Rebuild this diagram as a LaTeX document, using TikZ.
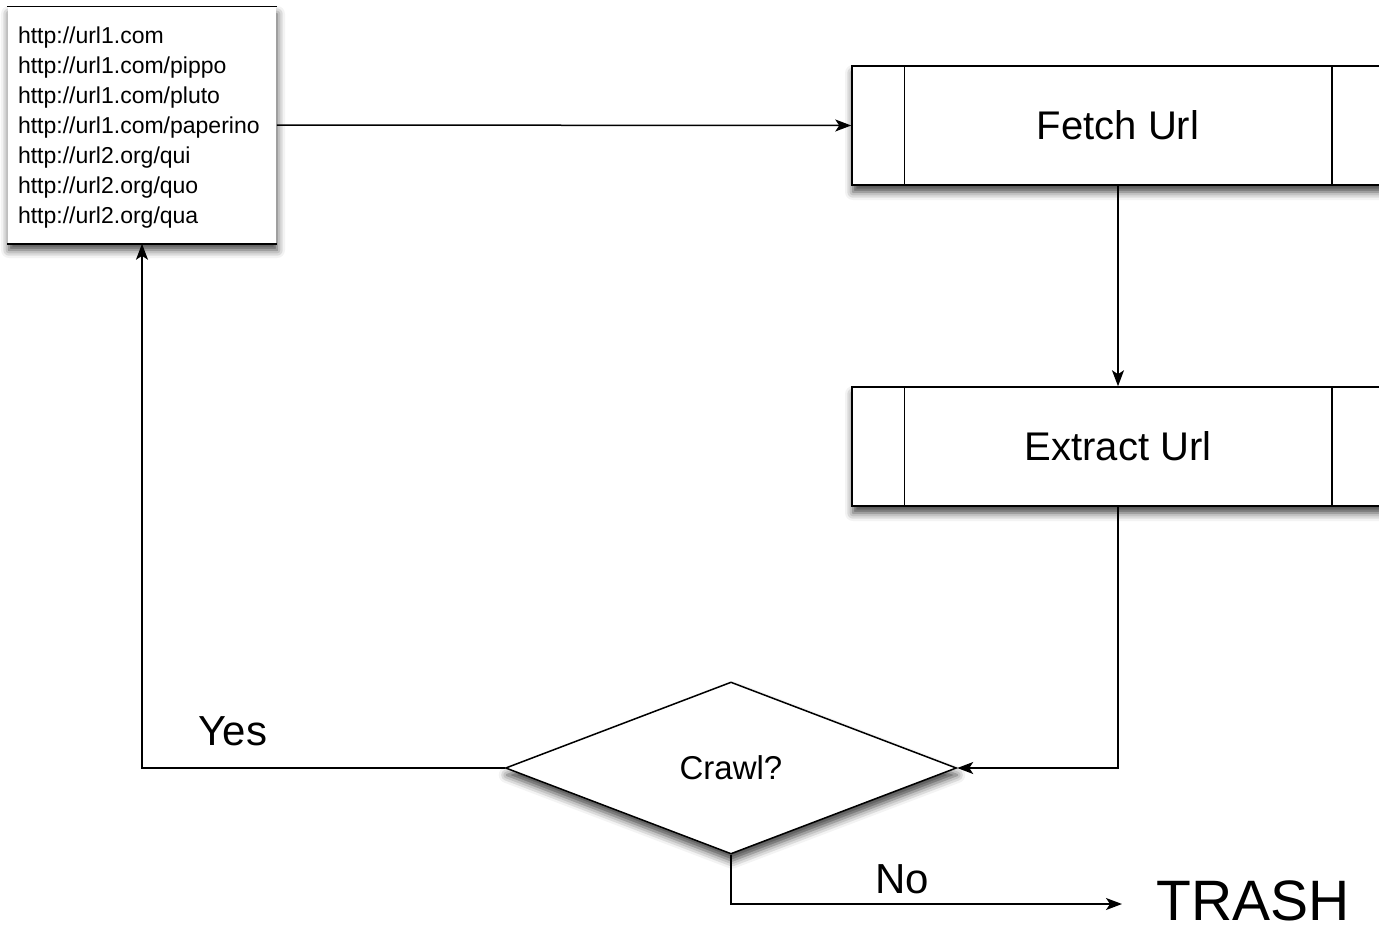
\documentclass[tikz,border=0pt]{standalone}
\usepackage{fontspec}
\setmainfont{Liberation Sans}
\usetikzlibrary{shapes.geometric,arrows.meta,shadows.blur}
\begin{document}
\begin{tikzpicture}[x=1pt,y=-1pt,
  line width=1.5pt,
  shad/.style={blur shadow={shadow xshift=1pt, shadow yshift=-7pt, shadow blur radius=8pt, shadow opacity=75}},
  procbox/.style={draw, fill=white, shad, minimum width=532pt, minimum height=119pt, inner sep=0pt, font=\fontsize{40}{48}\selectfont},
  decbox/.style={draw, fill=white, shad, diamond, aspect=2.62, minimum width=451pt, minimum height=172pt, inner sep=0pt, font=\fontsize{33}{38}\selectfont},
  urlbox/.style={fill=white, shad, minimum width=268pt, minimum height=236pt, inner sep=0pt},
  urltext/.style={inner sep=0pt, text width=248pt, align=left, font=\fontsize{23}{30}\selectfont},
  lbl/.style={inner sep=0pt, font=\fontsize{42}{48}\selectfont},
  arr/.style={-{Stealth[length=16pt,width=12pt,inset=4pt]}}
]
\useasboundingbox (0,0) rectangle (1379,929);
\clip (0,0) rectangle (1379,929);
% URL list
\node[urlbox] (urls) at (142,125) {};
\node[urltext] (urllist) at (142,128) {http://url1.com\\http://url1.com/pippo\\http://url1.com/pluto\\http://url1.com/paperino\\http://url2.org/qui\\http://url2.org/quo\\http://url2.org/qua};
\draw (urls.north west) -- (urls.north east);
\draw[line width=2.2pt] (urls.south west) -- (urls.south east);
% processes
\node[procbox] (fetch) at (1118,125.5) {Fetch Url};
\draw ([xshift=53pt]fetch.north west) -- ([xshift=53pt]fetch.south west);
\draw ([xshift=-53pt]fetch.north east) -- ([xshift=-53pt]fetch.south east);
\node[procbox] (extract) at (1118,446.5) {Extract Url};
\draw ([xshift=53pt]extract.north west) -- ([xshift=53pt]extract.south west);
\draw ([xshift=-53pt]extract.north east) -- ([xshift=-53pt]extract.south east);
% decision
\node[decbox] (dec) at (731,768) {Crawl?};
% trash
\node[inner sep=0pt, text depth=0pt, anchor=base, font=\fontsize{57}{62}\selectfont] (trash) at (1253,920) {TRASH};
\coordinate (noend) at (1122,904);
% connectors
\draw[arr] (urls.east) -- (fetch.west);
\draw[arr] (fetch.south) -- (extract.north);
\draw[arr] (extract.south) |- (dec.east);
\draw[arr] (dec.west) -| (urls.south);
\draw[arr] (dec.south) |- (noend);
% labels
\node[lbl] (yes) at (233,731) {Yes};
\node[lbl] (no) at (902,879) {No};
\end{tikzpicture}
\end{document}
